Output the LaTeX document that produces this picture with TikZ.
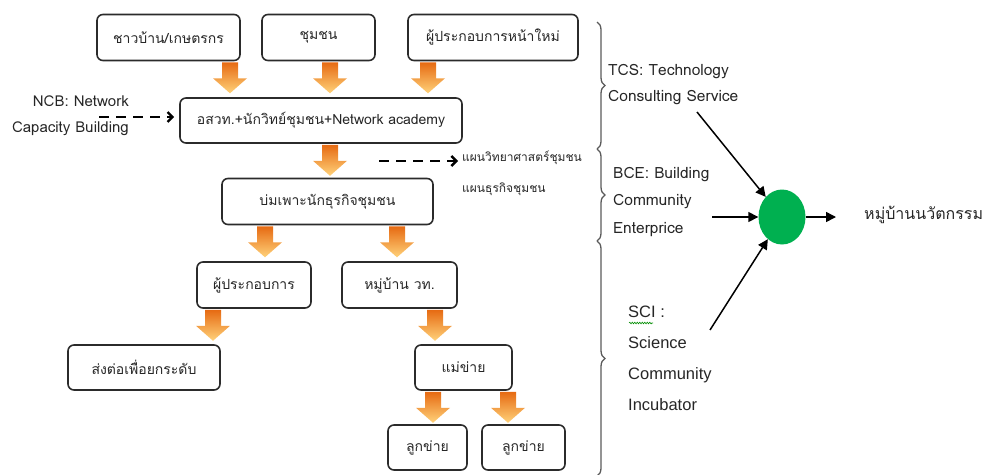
\documentclass[tikz,border=0pt]{standalone}
\usepackage{fontspec}
\setmainfont{Loma}[Script=Thai]
\newfontfamily\arialfont{Liberation Sans}
\usetikzlibrary{positioning, shapes.geometric, arrows.meta, decorations.pathreplacing, decorations.pathmorphing}
\definecolor{boxline}{HTML}{2B2B2B}
\definecolor{arrtop}{HTML}{E66A12}
\definecolor{arrmid}{HTML}{F5982A}
\definecolor{arrbot}{HTML}{FFD27A}
\definecolor{knotgreen}{HTML}{00B050}
\definecolor{bracegray}{HTML}{5A5A5A}
\tikzset{
	layer/.append style={
		draw=boxline,
		line width=1.6pt,
		rounded corners=6pt,
		align=center,
		minimum height=46pt,
		inner sep=0pt,
		text=black!85,
		font=\fontsize{14}{20}\selectfont
	},
	labe/.append style={
		inner sep=0pt,
		text=black!85,
		font=\fontsize{15.5}{26}\selectfont
	},
	dasharrow/.append style={
		line width=2.4pt,
		dash pattern=on 10pt off 7pt,
		-{Straight Barb[length=5pt, width=10pt]}
	},
	thinarrow/.append style={
		line width=1.5pt,
		-{Triangle[length=10pt, width=10pt]}
	},
	brc/.append style={
		draw=bracegray,
		line width=1.3pt,
		decorate,
		decoration={brace, amplitude=8pt}
	},
	pics/fatarrow/.style={code={
		\shade[top color=arrtop, middle color=arrmid, bottom color=arrbot]
		(-8,0) -- (8,0) -- (8,-16) -- (17,-16) -- (0,-31) -- (-17,-16) -- (-8,-16) -- cycle;
	}}
}

\begin{document}
\begin{tikzpicture}[x=1pt, y=1pt]
		\useasboundingbox (0,0) rectangle (990,-474);
		
		\node(villager)[layer, minimum width=143pt] at (168.5,-37.5) {ชาวบ้าน/เกษตรกร};
		\node(community)[layer, minimum width=113pt] at (318.5,-37.5) {ชุมชน};
		\node(newent)[layer, minimum width=170pt] at (493,-37.5) {ผู้ประกอบการหน้าใหม่};
		\node(academy)[layer, minimum width=282pt, minimum height=45pt] at (321,-120.5) {อสวท.+นักวิทย์ชุมชน+Network academy};
		\node(incub)[layer, minimum width=211pt] at (327.5,-201.5) {บ่มเพาะนักธุรกิจชุมชน};
		\node(entre)[layer, minimum width=114pt] at (254,-285) {ผู้ประกอบการ};
		\node(village)[layer, minimum width=115pt] at (399.5,-285) {หมู่บ้าน วท.};
		\node(upgrade)[layer, minimum width=152pt, minimum height=45pt] at (144,-367.5) {ส่งต่อเพื่อยกระดับ};
		\node(hub)[layer, minimum width=97pt, minimum height=45pt] at (463.5,-367.5) {แม่ข่าย};
		\node(subA)[layer, minimum width=79pt, minimum height=45pt] at (427.5,-447.5) {ลูกข่าย};
		\node(subB)[layer, minimum width=83pt, minimum height=45pt] at (523.5,-447.5) {ลูกข่าย};
		
		\foreach \src/\dx in {villager/61.5, community/11.5, newent/-65, academy/9, incub/-62.5, incub/69.5, entre/-41, village/35.5, hub/-30.5, hub/44.5}{
			\pic at ([xshift=\dx pt, yshift=-1pt]\src.south) {fatarrow};
		};
		
		\node(ncb)[labe, align=right, anchor=north east, font=\fontsize{15}{26}\selectfont] at (129,-96) {NCB: Network\\Capacity Building};
		\node(plan)[labe, align=left, anchor=north west, font=\fontsize{12}{31}\selectfont] at (462,-151) {แผนวิทยาศาสตร์ชุมชน\\แผนธุรกิจชุมชน};
		
		\coordinate (ncbtail) at (99,-117);
		\coordinate (plantail) at (379,-161);
		\draw[dasharrow] (ncbtail) -- ([xshift=-5pt]ncbtail -| academy.west);
		\draw[dasharrow] (plantail) -- ([xshift=-4pt]plantail -| plan.west);
		
		% braces
		\draw[brc] (597,-22) -- (597,-149);
		\draw[brc] (597,-149) -- (597,-241);
		\draw[brc] (597,-241) -- (597,-476);
		
		\node(tcs)[labe, align=left, anchor=north west] at (608,-64) {TCS: Technology\\Consulting Service};
		\node(bce)[labe, align=left, anchor=north west, font=\fontsize{15.5}{27.5}\selectfont] at (613,-167) {BCE: Building\\Community\\Enterprice};
		\node(sci)[labe, align=left, anchor=north west, font=\arialfont\fontsize{16.5}{31}\selectfont] at (628,-306) {SCI :\\Science\\Community\\Incubator};
		\draw[green!55!black, line width=0.6pt, decorate, decoration={snake, amplitude=0.8pt, segment length=2.5pt}] (629,-323) -- (653,-323);
		
		\node(inno)[ellipse, fill=knotgreen, minimum width=47pt, minimum height=55pt, inner sep=0pt] at (782,-217) {};
		\node(goal)[labe, anchor=west, font=\fontsize{16}{20}\selectfont] at (864,-215) {หมู่บ้านนวัตกรรม};
		
		\coordinate (tcsfoot) at (697,-112);
		\coordinate (bcefoot) at (712,-217);
		\coordinate (scifoot) at (710,-330);
		\draw[thinarrow] (tcsfoot) -- (inno);
		\draw[thinarrow] (bcefoot) -- (inno);
		\draw[thinarrow] (scifoot) -- (inno);
		\draw[thinarrow, shorten >=28pt] (inno) -- (inno -| goal.west);
		
\end{tikzpicture}
\end{document}
